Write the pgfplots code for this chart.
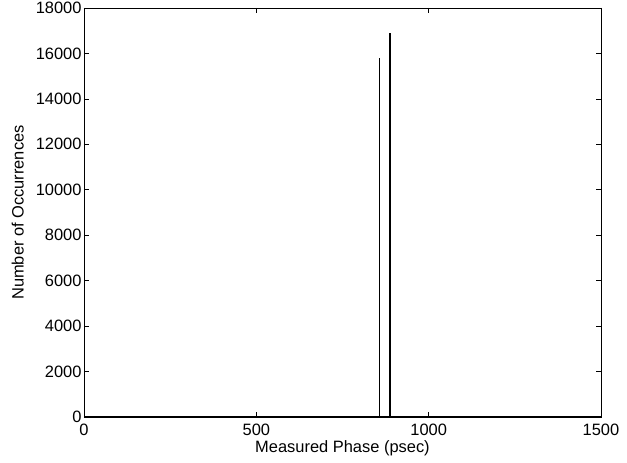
\documentclass[border=0pt]{standalone}
\usepackage{pgfplots}
\pgfplotsset{compat=1.18}
\usepackage{fontspec}
\setmainfont{Liberation Sans}
\begin{document}
\begin{tikzpicture}
\path[use as bounding box] (-84bp,-46bp) rectangle (543bp,417bp);
\begin{axis}[
  scale only axis,
  width=517bp, height=409bp,
  xmin=0, xmax=1500, ymin=0, ymax=18000,
  xtick={0,500,1000,1500},
  ytick={0,2000,4000,6000,8000,10000,12000,14000,16000,18000},
  scaled ticks=false,
  /pgf/number format/assume math mode=true,
  /pgf/number format/set thousands separator={},
  tick align=inside,
  major tick length=5bp,
  axis line style={line width=0.9pt},
  tick style={line width=0.7pt, black},
  xlabel={Measured Phase (psec)},
  ylabel={Number of Occurrences},
  xlabel style={at={(axis description cs:0.5,-0.0758)}, anchor=center},
  ylabel style={at={(axis description cs:-0.128,0.5)}, anchor=center},
  tick label style={font=\fontsize{16.5}{19}\selectfont},
  label style={font=\fontsize{16.5}{19}\selectfont},
  yticklabel style={xshift=1bp},
  xticklabel style={anchor=center, yshift=-13bp},
]
\addplot[black, line width=1.6pt, ycomb] coordinates {(857,15800) (888,16880)};
\addplot[black, line width=1.3pt] coordinates {(0,0) (1500,0)};
\end{axis}
\end{tikzpicture}
\end{document}
